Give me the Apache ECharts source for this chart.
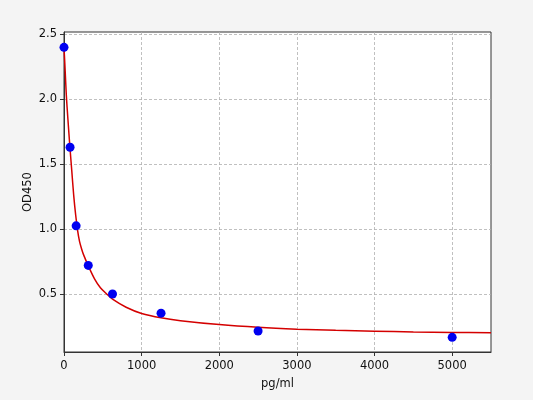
<!DOCTYPE html>
<html>
<head>
<meta charset="utf-8">
<script src="https://cdn.jsdelivr.net/npm/echarts@6/dist/echarts.min.js"></script>
<style>
html,body{margin:0;padding:0;background:#f4f4f4;}
#c{width:533px;height:400px;}
</style>
</head>
<body>
<div id="c"></div>
<script>
// Measured standards (pg/ml, OD450)
const concentrations = [0, 78.125, 156.25, 312.5, 625, 1250, 2500, 5000];
const odValues = [2.40, 1.63, 1.025, 0.72, 0.50, 0.352, 0.215, 0.166];

// Fitted curve
const curveX = [0, 5, 15, 30, 50, 75, 100, 125, 150, 175, 200, 225, 250, 318, 395, 469, 550, 625, 800, 1000, 1250, 1500, 2000, 2500, 3000, 3500, 4000, 4500, 5000, 5500];
const curveY = [2.40, 2.34, 2.22, 2.03, 1.85, 1.64, 1.45, 1.26, 1.11, 0.99, 0.905, 0.85, 0.805, 0.71, 0.615, 0.548, 0.50, 0.46, 0.398, 0.350, 0.316, 0.294, 0.264, 0.243, 0.229, 0.220, 0.213, 0.208, 0.204, 0.201];

const xTicks = [0, 1000, 2000, 3000, 4000, 5000];
const yTicks = [0.5, 1.0, 1.5, 2.0, 2.5];

const chart = echarts.init(document.getElementById('c'));
const font = 'DejaVu Sans';
chart.setOption({
  backgroundColor: '#f4f4f4',
  animation: false,
  grid: {left: 64, right: 42, top: 32, bottom: 48, show: true, backgroundColor: '#ffffff', borderColor: '#333333', borderWidth: 1},
  xAxis: {
    type: 'value', min: 0, max: 5500,
    name: 'pg/ml', nameLocation: 'middle', nameGap: 26,
    nameTextStyle: {fontFamily: font, fontSize: 11.5, color: '#111'},
    axisLine: {show: true, lineStyle: {color: '#333', width: 1}},
    axisTick: {show: true, inside: false, length: 4, lineStyle: {color: '#333'}, customValues: xTicks},
    axisLabel: {fontFamily: font, fontSize: 11.5, color: '#111', margin: 8, customValues: xTicks, formatter: v => String(v)},
    splitLine: {show: true, lineStyle: {color: '#b0b0b0', type: [3, 2], width: 0.8}}
  },
  yAxis: {
    type: 'value', min: 0.053, max: 2.518,
    name: 'OD450', nameLocation: 'middle', nameGap: 30, nameMoveOverlap: false,
    nameTextStyle: {fontFamily: font, fontSize: 11.5, color: '#111'},
    axisLine: {show: true, lineStyle: {color: '#333', width: 1}},
    axisTick: {show: true, inside: false, length: 4, lineStyle: {color: '#333'}, customValues: yTicks},
    axisLabel: {fontFamily: font, fontSize: 11.5, color: '#111', margin: 7, customValues: yTicks, formatter: v => v.toFixed(1)},
    splitLine: {show: true, lineStyle: {color: '#b0b0b0', type: [3, 2], width: 0.8}}
  },
  series: [
    {
      type: 'line',
      data: curveX.map((x, i) => [x, curveY[i]]),
      smooth: 0.3,
      showSymbol: false,
      lineStyle: {color: '#d40000', width: 1.5},
      z: 2
    },
    {
      type: 'scatter',
      data: concentrations.map((x, i) => [x, odValues[i]]),
      symbolSize: 9,
      itemStyle: {color: '#0000f0', opacity: 1},
      z: 3
    }
  ]
});
</script>
</body>
</html>
